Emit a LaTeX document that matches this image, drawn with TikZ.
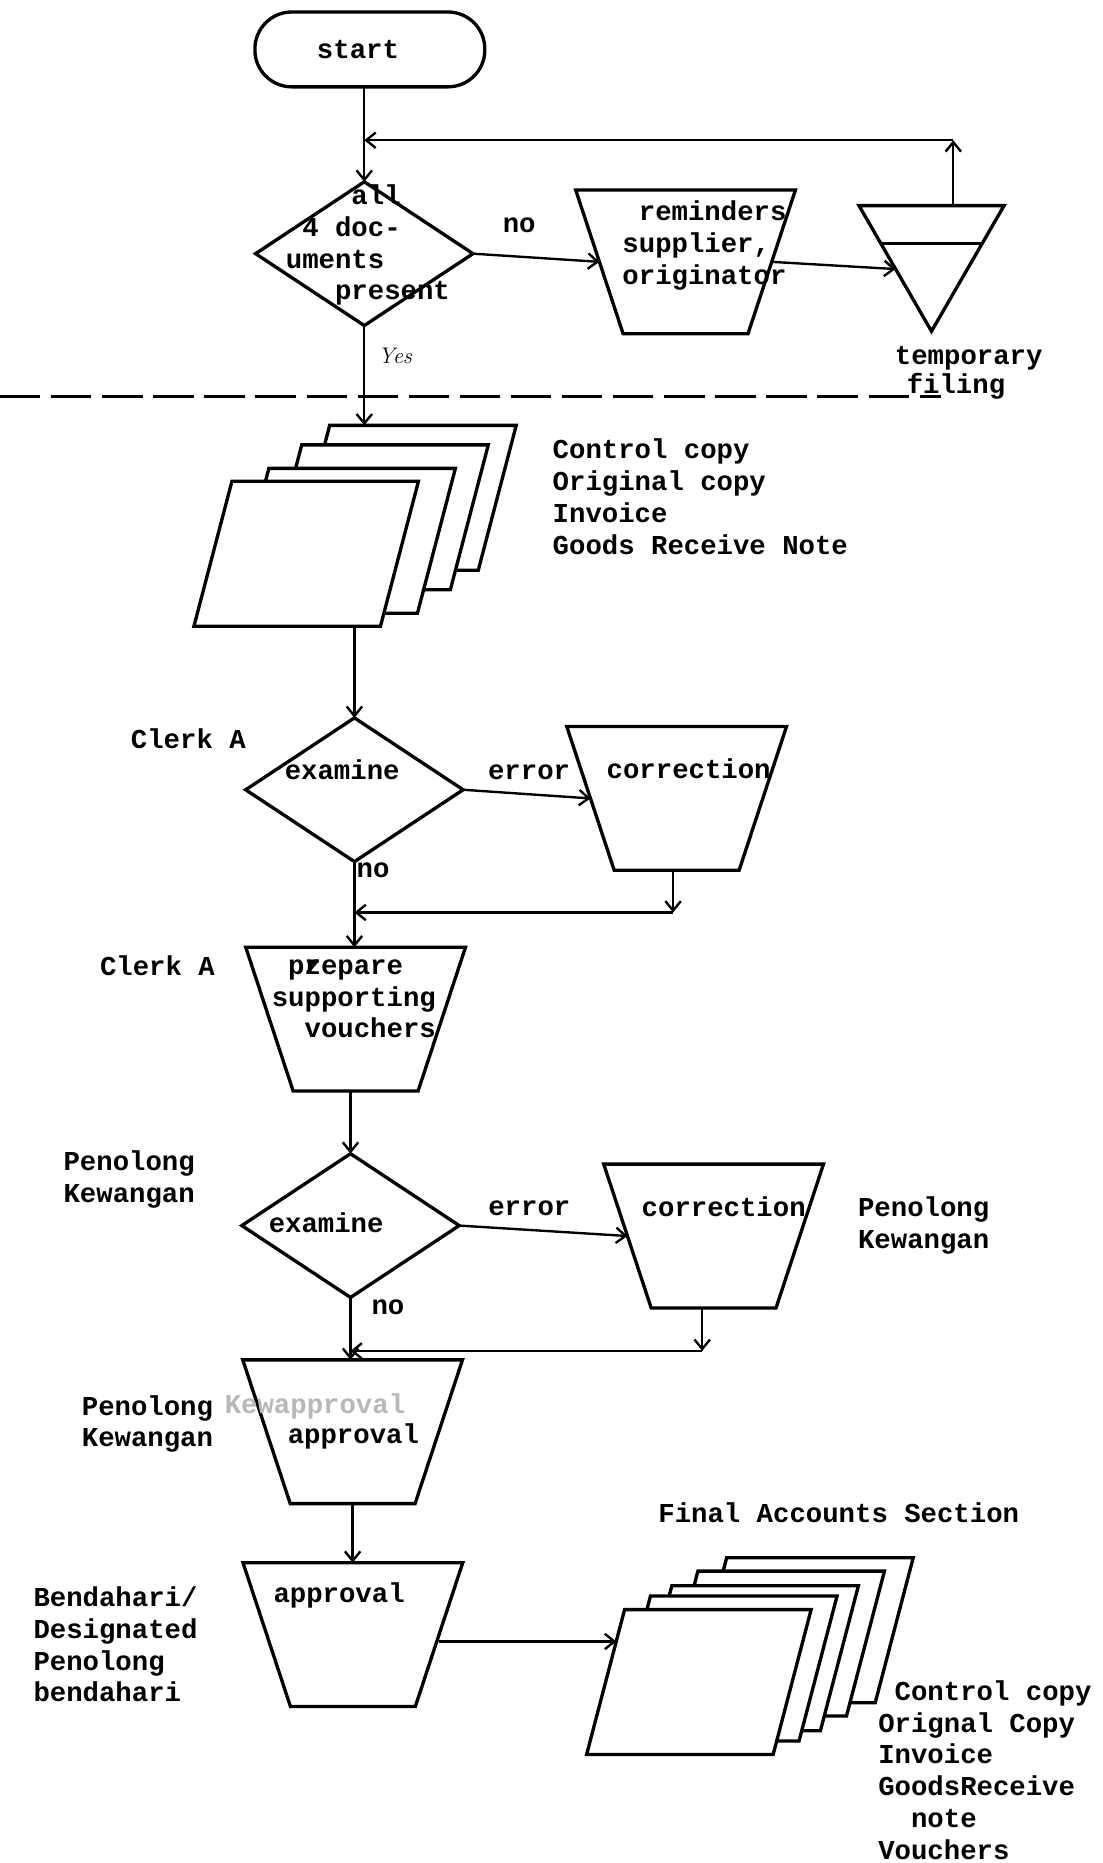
\documentclass[tikz,border=0pt]{standalone}
\usepackage{fontspec}
\usetikzlibrary{shapes.geometric,arrows.meta,calc}
\newfontfamily\twfont{Liberation Mono}
\newcommand{\twx}{\twfont\bfseries\fontsize{23pt}{26.8pt}\selectfont}
\newcommand{\twy}{\twfont\bfseries\fontsize{23pt}{24pt}\selectfont}
\newcommand{\nobody}{\phantom{\rule{4pt}{4pt}}}
\begin{document}
\begin{tikzpicture}[x=1pt,y=-1pt,
  shp/.style={draw, line width=2.8pt, inner sep=0pt, outer sep=0pt},
  trap/.style={shp, trapezium, trapezium angle=69.2, trapezium stretches=true,
    shape border rotate=180, minimum width=185pt, minimum height=121pt},
  dec/.style={shp, diamond, minimum width=183pt, minimum height=121pt},
  sheet/.style={shp, fill=white, rectangle, xslant=0.262,
    minimum width=157pt, minimum height=122pt},
  con/.style={line width=2pt},
  arr/.style={con, -{Straight Barb[length=8pt,width=13pt]}},
  lbl/.style={font=\twx, inner sep=0pt, align=left, anchor=base west},
  dashln/.style={line width=2.3pt, dash pattern=on 34pt off 9pt},
]
\useasboundingbox (0,0) rectangle (928,1568);

% ---- top part ----
\node[shp, rectangle, rounded corners=31pt, minimum width=193.5pt,
      minimum height=63pt, font=\twx] (start) at (311.3,41.6) {start\hspace*{20pt}};

\node[dec] (d1) at (306.6,213.5) {};
\node[lbl] (d1t) at (240.4,252.4)
  {\hphantom{xxxx}all\\\hphantom{x}4 doc-\\uments\\\hphantom{xxx}present};
\draw[arr] (d1.90 |- start.270) -- (d1.90);

\node[lbl] (no1) at (423,196) {no};
\node[trap] (rem) at (577,220.4) {\nobody};
\node[lbl] (remt) at (523.7,239.1) {\hphantom{x}reminders\\supplier,\\originator};
\draw[arr] (d1.0) -- (rem.180);

\node[shp, regular polygon, regular polygon sides=3, shape border rotate=180,
      minimum size=141pt] (fil) at (784,208.3) {};
\draw[line width=2.8pt] ($(fil.corner 3)!0.3!(fil.corner 1)$) -- ($(fil.corner 2)!0.3!(fil.corner 1)$);
\node[lbl, font=\twy] (filt) at (753,331) {temporary\\\hspace*{10pt}filing};
\draw[arr] (rem.0) -- (fil.211);

\coordinate (f0) at ($(fil.corner 2)!0.35!(fil.corner 3)$);
\coordinate (k0) at ($(f0)+(0,-55)$);
\draw[arr] (f0) -- (k0);
\draw[arr] (k0) -- (k0 -| d1.90);

\draw[dashln] (0,334) -- (792,334);

\node[font=\itshape\fontsize{19pt}{19pt}\selectfont, inner sep=0pt,
      anchor=base west] (yes) at (318,306) {Yes};

% ---- document stack 1 ----
\node[sheet] (s1d) at (340,419) {};
\node[sheet] (s1c) at (316.5,435.4) {};
\node[sheet] (s1b) at (288.8,455.2) {};
\node[sheet] (s1a) at (257.7,466.1) {};
\draw[arr] (d1.270) -- (d1.270 |- s1d.north);
\node[lbl] (s1t) at (465,466.4) {Control copy\\Original copy\\Invoice\\Goods Receive Note};

% ---- clerk A examine ----
\node[dec] (d2) at (298.3,664.7) {};
\draw[arr] (d2.90 |- s1a.south) -- (d2.90);
\node[lbl] (d2t) at (239.5,656) {examine};
\node[lbl] (clerk1) at (110,630) {Clerk A};
\node[lbl] (err1) at (410.6,656) {error};
\node[trap] (c1) at (569.5,672) {\nobody};
\node[lbl] (c1t) at (510.4,655) {correction};
\draw[arr] (d2.0) -- (c1.180);
\coordinate (k1) at (566.5,768);
\draw[arr] (k1 |- c1.270) -- (k1);
\draw[arr] (k1) -- (k1 -| d2.270);
\node[lbl] (no2) at (300,738.5) {no};

% ---- prepare ----
\node[trap] (prep) at (299.3,857.8) {\nobody};
\draw[arr] (d2.270) -- (d2.270 |- prep.90);
\node[lbl] (prept) at (228.6,873.6)
  {\hphantom{x}p\rlap{z}repare\\supporting\\\hphantom{xx}vouchers};
\node[lbl] (clerk2) at (84,821) {Clerk A};

% ---- Penolong Kewangan examine ----
\node[dec] (d3) at (295,1031.5) {};
\draw[arr] (d3.90 |- prep.270) -- (d3.90);
\node[lbl] (d3t) at (226,1037) {examine};
\node[lbl] (pk1) at (53.3,1011.8) {Penolong\\Kewangan};
\node[lbl] (err2) at (410.8,1023) {error};
\node[trap] (c2) at (600.6,1040.3) {\nobody};
\node[lbl] (c2t) at (539.9,1024) {correction};
\node[lbl] (pk2) at (722,1050.8) {Penolong\\Kewangan};
\draw[arr] (d3.0) -- (c2.180);
\coordinate (k2) at (591,1137);
\draw[arr] (k2 |- c2.270) -- (k2);
\draw[arr] (k2) -- (k2 -| d3.270);
\node[lbl] (no3) at (312.5,1106) {no};

% ---- approvals ----
\node[trap] (ap1) at (296.8,1205) {\nobody};
\draw[arr] (d3.270) -- (d3.270 |- ap1.90);
\node[lbl] (pk3) at (68.7,1217.8) {Penolong\\Kewangan};
\node[lbl, text=black!28] (ghost) at (189,1190) {Kewapproval};
\node[lbl] (ap1t) at (242,1215) {approval};

\node[trap] (ap2) at (297,1375.8) {\nobody};
\draw[arr] (ap1.270) -- (ap1.270 |- ap2.90);
\node[lbl] (ap2t) at (230,1348.5) {approval};
\node[lbl] (bend) at (28,1432.4) {Bendahari/\\Designated\\Penolong\\bendahari};

% ---- document stack 2 ----
\node[lbl] (fas) at (553.9,1281) {Final Accounts Section};
\node[sheet] (s2e) at (674.1,1372.1) {};
\node[sheet] (s2d) at (649.9,1383.3) {};
\node[sheet] (s2c) at (628,1395.6) {};
\node[sheet] (s2b) at (610,1404.3) {};
\node[sheet] (s2a) at (588.2,1415.7) {};
\coordinate (s2in) at ($(s2a.west)!0.56!(s2a.north west)$);
\draw[arr] (ap2.0 |- s2in) -- (s2in);
\node[lbl] (s2t) at (739,1565)
  {\hphantom{x}Control copy\\Orignal Copy\\Invoice\\GoodsReceive\\\hphantom{xx}note\\Vouchers};
\end{tikzpicture}
\end{document}
